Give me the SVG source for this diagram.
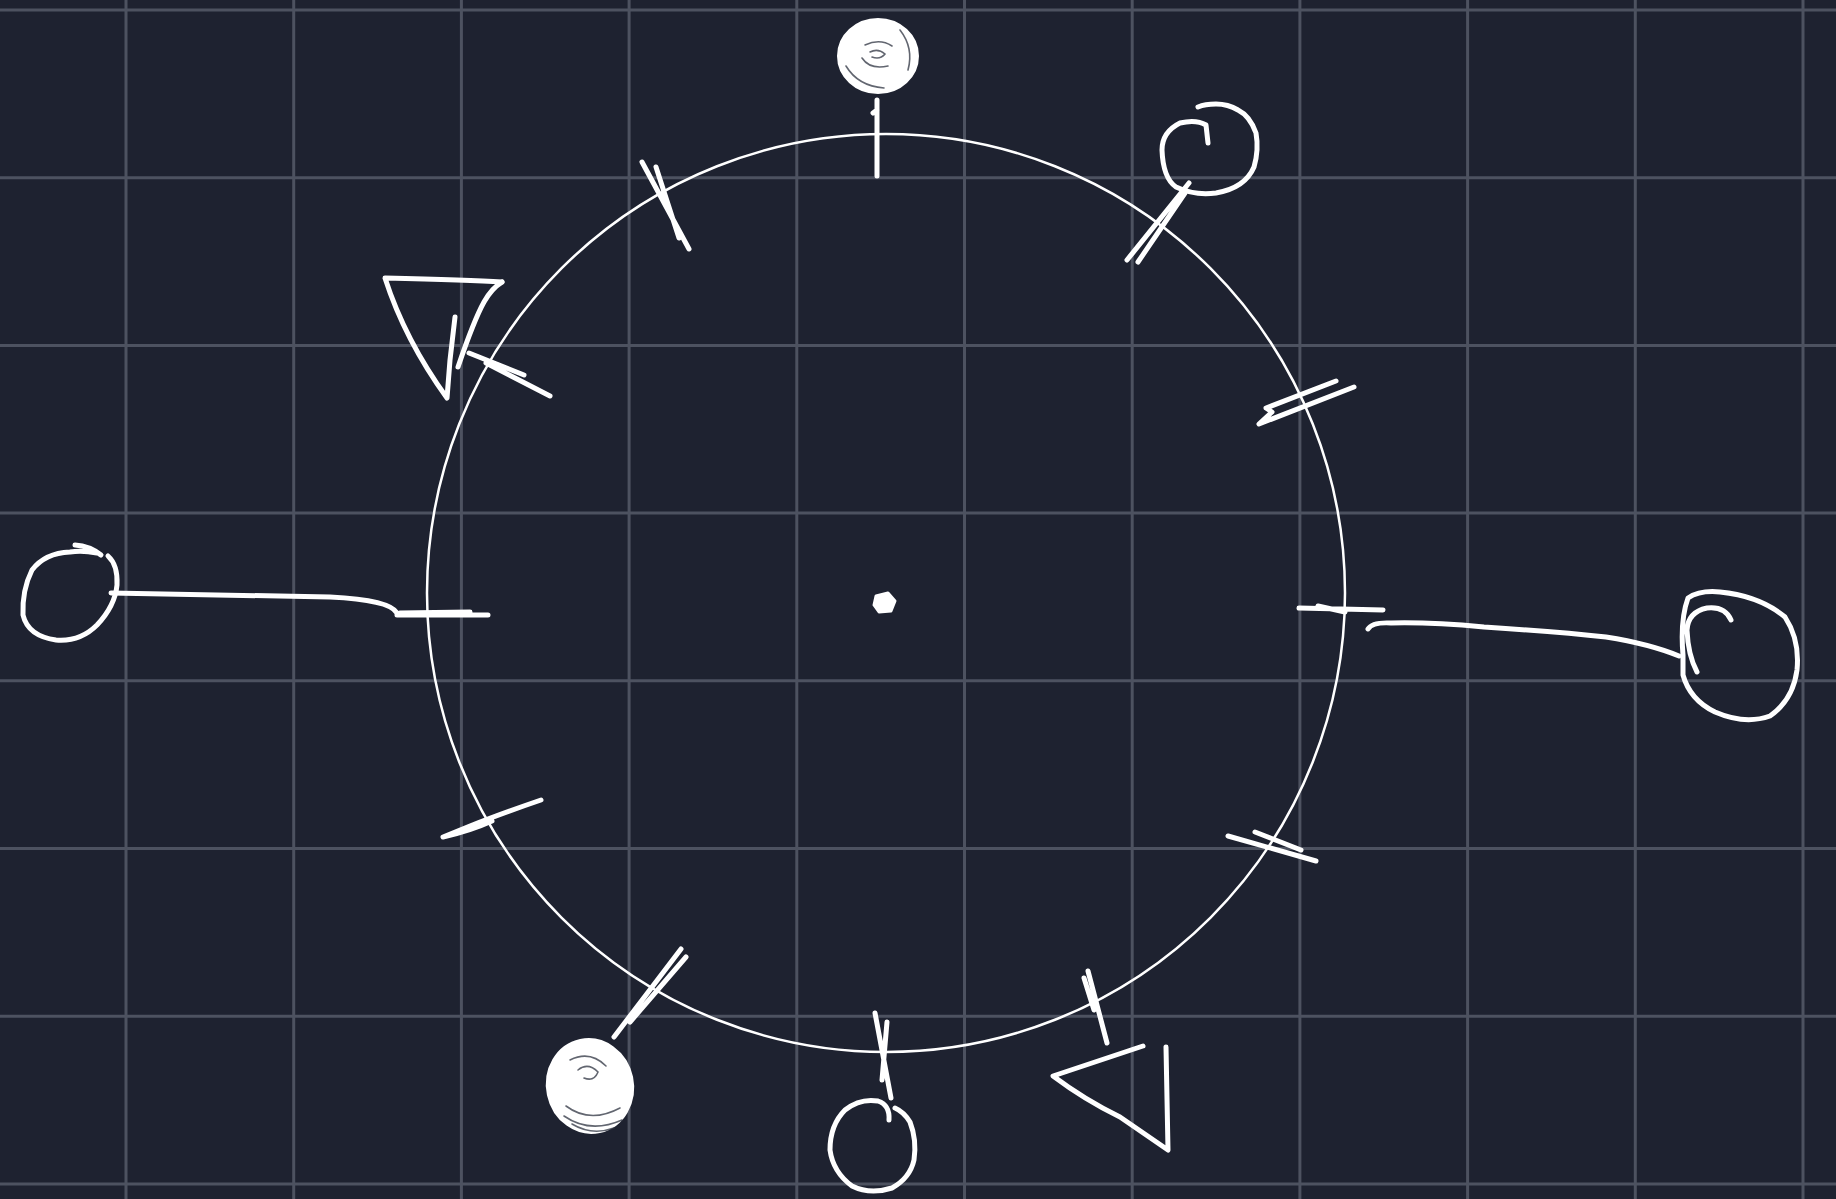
<svg xmlns="http://www.w3.org/2000/svg" width="1836" height="1199" viewBox="0 0 1836 1199">
<style>
.grid line{stroke:#4d5260;stroke-width:3}
.ink{fill:none;stroke:#ffffff;stroke-width:5;stroke-linecap:round;stroke-linejoin:round}
.thin{fill:none;stroke:#ffffff;stroke-width:2.5}
.fillnode{fill:#ffffff;stroke:#ffffff;stroke-width:4}
.swirl{fill:none;stroke:#2e3340;stroke-width:1.6;stroke-linecap:round;opacity:0.75}
</style>
<rect width="1836" height="1199" fill="#1e2230"/>
<g class="grid">
<line x1="126" y1="0" x2="126" y2="1199"/><line x1="293.7" y1="0" x2="293.7" y2="1199"/><line x1="461.4" y1="0" x2="461.4" y2="1199"/><line x1="629.1" y1="0" x2="629.1" y2="1199"/><line x1="796.8" y1="0" x2="796.8" y2="1199"/><line x1="964.5" y1="0" x2="964.5" y2="1199"/><line x1="1132.2" y1="0" x2="1132.2" y2="1199"/><line x1="1299.9" y1="0" x2="1299.9" y2="1199"/><line x1="1467.6" y1="0" x2="1467.6" y2="1199"/><line x1="1635.3" y1="0" x2="1635.3" y2="1199"/><line x1="1803" y1="0" x2="1803" y2="1199"/>
<line x1="0" y1="10" x2="1836" y2="10"/><line x1="0" y1="177.7" x2="1836" y2="177.7"/><line x1="0" y1="345.4" x2="1836" y2="345.4"/><line x1="0" y1="513.1" x2="1836" y2="513.1"/><line x1="0" y1="680.8" x2="1836" y2="680.8"/><line x1="0" y1="848.5" x2="1836" y2="848.5"/><line x1="0" y1="1016.2" x2="1836" y2="1016.2"/><line x1="0" y1="1183.9" x2="1836" y2="1183.9"/>
</g>
<g id="ring">
<circle class="thin" cx="886" cy="593" r="459"/>
<path d="M876 596 L888 593 L895 601 L891 611 L879 612 L874 605 Z" fill="#ffffff" stroke="#ffffff" stroke-width="3" stroke-linejoin="round"/>
</g>
<g id="connectors">
<path class="ink" d="M877 100 L877 176 M873 113 L877 110"/>
<path class="ink" d="M642 162 L689 249 M656 167 L679 238"/>
<path class="ink" d="M1189 183 L1127 260 M1185 193 L1138 262"/>
<path class="ink" d="M1336 381 L1266 408 L1272 412 L1259 424 L1354 387"/>
<path class="ink" d="M1299 608 L1383 610 M1318 606 L1345 612"/>
<path class="ink" d="M1228 836 L1316 861 M1255 832 L1301 850"/>
<path class="ink" d="M1088 971 L1107 1043 M1084 978 L1094 1010"/>
<path class="ink" d="M875 1013 L891 1098 M887 1022 L882 1080"/>
<path class="ink" d="M681 949 L614 1037 M686 957 L630 1022"/>
<path class="ink" d="M541 800 Q500 814 470 826 L443 837 Q470 831 492 821"/>
<path class="ink" d="M397 615 L488 615 M400 613 L470 612"/>
<path class="ink" d="M469 353 L524 375 M486 363 L550 396"/>
<path class="ink" d="M111 593 L330 597 Q390 600 397 613"/>
<path class="ink" d="M1368 629 Q1372 622 1391 623 Q1430 622 1484 627 Q1560 632 1606 637 Q1650 644 1679 656"/>
</g>
<g id="node-top">
<ellipse class="fillnode" cx="878" cy="56" rx="39" ry="36"/>
<path class="swirl" d="M865 45 Q880 38 892 46 M862 58 Q870 70 888 66 M870 52 Q878 48 885 54 Q880 60 872 57 M846 66 Q858 86 884 88 M900 30 Q914 48 908 70"/>
</g>
<g id="node-upper-right">
<path class="ink" d="M1208 143 L1206 125 Q1196 119 1180 123 Q1162 132 1162 150 Q1163 178 1176 187 Q1195 196 1216 193 Q1245 188 1254 167 Q1259 150 1256 133 Q1250 116 1238 110 Q1228 104 1216 104 Q1205 104 1198 107"/>
</g>
<g id="node-left">
<path class="ink" d="M101 555 Q90 546 75 545 M97 553 Q82 550 70 552 Q45 553 32 570 Q22 590 23 615 Q28 636 56 640 Q80 642 97 625 Q115 606 117 585 Q118 565 108 556"/>
</g>
<g id="node-right">
<path class="ink" d="M1731 620 Q1725 606 1707 608 Q1688 612 1687 630 Q1688 655 1697 672 M1683 655 Q1680 620 1688 598 Q1700 590 1720 592 Q1760 596 1785 617 Q1800 640 1797 670 Q1793 700 1770 716 Q1745 725 1715 712 Q1690 700 1683 675 Z"/>
</g>
<g id="node-bottom">
<path class="ink" d="M889 1120 Q890 1105 878 1101 Q860 1098 845 1110 Q830 1125 830 1150 Q833 1172 852 1186 Q870 1195 892 1188 Q910 1178 914 1160 Q917 1140 910 1122 Q904 1112 895 1108"/>
</g>
<g id="node-bottom-left">
<ellipse class="fillnode" cx="590" cy="1086" rx="42" ry="46" transform="rotate(-12 590 1086)"/>
<path class="swirl" d="M566 1106 Q590 1124 620 1108 M564 1116 Q590 1134 622 1120 M572 1124 Q592 1136 614 1128 M578 1070 Q588 1062 598 1072 Q594 1082 584 1078 M570 1060 Q590 1050 606 1066"/>
</g>
<g id="node-upper-left">
<path class="ink" d="M502 282 Q470 280 385 278 Q405 340 447 398 L450 360 L455 317"/>
<path class="ink" d="M458 367 Q474 320 484 302 Q492 288 502 282"/>
</g>
<g id="node-lower-right">
<path class="ink" d="M1143 1046 L1053 1076 Q1085 1100 1120 1117 L1168 1150 L1166 1047"/>
</g>
</svg>
